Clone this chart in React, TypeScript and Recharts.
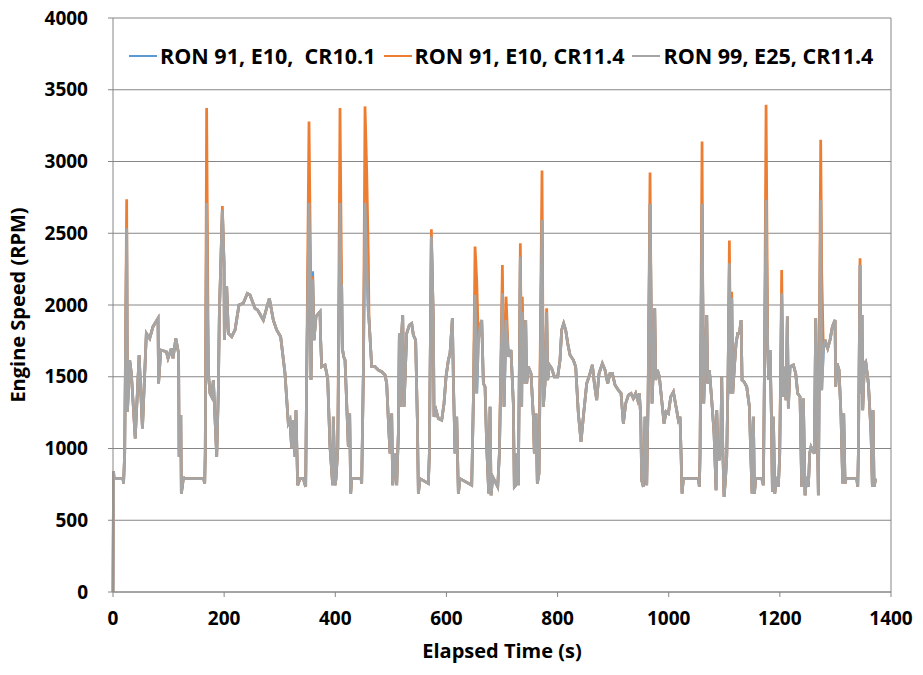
import React from 'react';
import {
  LineChart,
  Line,
  XAxis,
  YAxis,
  CartesianGrid,
  ReferenceLine,
} from 'recharts';

// elapsed time (s) and engine speed (rpm)
const timeS = [
  0, 1, 2, 18, 19, 21, 24.6, 26, 30, 33, 40, 47, 53, 60, 66, 72, 81, 82, 86, 96,
  99, 105, 108, 113, 118, 119, 122, 123, 127, 128, 163, 165, 166, 168.5, 170, 171.6, 174.6, 177.6, 180.6, 186.6,
  189.6, 191.4, 196.8, 199.8, 200.4, 204.6, 207.6, 213.6, 219.6, 226.7, 234.5, 241.7, 246.5, 255.5, 260.3, 270.5, 281.3, 288.5, 294.5, 301.7,
  309.5, 315.5, 318.5, 321.5, 324.5, 327.5, 329.3, 332.3, 336.5, 342.5, 346.7, 348.5, 352.7, 355.1, 356.3, 359.3, 361.7, 365.3, 372.5, 373.7,
  375.5, 381.5, 386.3, 390.5, 395.3, 396.5, 399.5, 401.3, 404.5, 408.5, 410.3, 411.5, 412.7, 415.1, 417.5, 423.5, 425.9, 427.7, 429.5, 446.3,
  447.5, 450.5, 453.5, 456.5, 459.5, 460.7, 465.5, 471.5, 477.5, 483.5, 489.5, 492.5, 495.5, 498.5, 501.5, 503.3, 507.5, 510.5, 513.5, 515.3,
  517.7, 519.5, 521.3, 523.7, 528.5, 533.3, 537.5, 540.5, 544.6, 547.7, 549.5, 552.5, 567.5, 569.3, 572.9, 576.5, 577.7, 581.3, 585.5, 591.5,
  595.7, 599.3, 603.5, 606.5, 610.7, 612.5, 615.5, 618.5, 621.5, 624.5, 645.5, 648.5, 651.5, 654.5, 657.5, 660.5, 663.5, 666.5, 669.5, 672.5,
  676.1, 678.5, 680.3, 683.3, 692.3, 695.3, 700.7, 703.7, 707.3, 711.5, 716.2, 720.4, 722.2, 724.6, 727, 729.4, 733, 735.4, 736.6, 739.6,
  742.6, 744.4, 747.4, 752.2, 756.4, 758.2, 761.2, 763.6, 766.6, 772, 774.4, 777.4, 780.4, 782.2, 785.2, 789.4, 794.2, 800.2, 804.4, 807.4,
  811, 814.6, 818.2, 822.4, 828.4, 832.6, 837.4, 842.2, 846.4, 852.4, 858.4, 862.6, 866.2, 870.4, 874.6, 880.6, 885.4, 890.2, 894.4, 898.6,
  903.4, 909.4, 914.2, 918.4, 922.6, 927.4, 932.2, 936.4, 940.6, 944.2, 947.2, 949.6, 951.4, 954.4, 957.4, 960.4, 962.8, 966.4, 968.2, 970,
  972.4, 974.8, 976.6, 979.6, 983.2, 987.4, 991.6, 995.2, 999.4, 1003.6, 1008.4, 1013.2, 1017.4, 1020.4, 1022.2, 1024, 1026.4, 1053.4, 1055.2, 1056.4,
  1060, 1061.2, 1063, 1068.4, 1070.2, 1073.2, 1077.4, 1081.6, 1085.2, 1086.4, 1088.8, 1091.2, 1093.6, 1095.4, 1097.2, 1099.6, 1102, 1104.4, 1106.8, 1109.2,
  1111.6, 1113.4, 1115.2, 1118.2, 1121.2, 1124.2, 1127.2, 1130.2, 1132, 1135.6, 1140.4, 1145.2, 1147.6, 1150, 1152.4, 1154.2, 1156.6, 1167.4, 1170.4, 1172.2,
  1175.2, 1177, 1178.2, 1180, 1182.4, 1184.8, 1186.6, 1188.4, 1190.8, 1194.4, 1197.3, 1199.7, 1203.3, 1205.7, 1208.1, 1211.1, 1213.5, 1215.3, 1218.3, 1224.3,
  1228.5, 1232.1, 1236.3, 1239.3, 1242.3, 1245.3, 1248.3, 1251.3, 1253.7, 1256.1, 1262.1, 1264.5, 1269.3, 1273.5, 1275.3, 1278.3, 1281.3, 1286.1, 1290.3, 1294.5,
  1299.3, 1300.5, 1302.9, 1306.5, 1310.1, 1313.1, 1314.9, 1317.3, 1319.1, 1338.3, 1340.1, 1341.3, 1344.3, 1346.1, 1347.9, 1349.1, 1352.1, 1354.5, 1359.3, 1364.1,
  1366.5, 1367.7, 1369.5, 1372.5,
];

// RON 99, E25, CR11.4 (grey, drawn on top)
const rpmE25 = [
  0, 840, 790, 790, 756, 965, 2535, 1256, 1616, 1523, 1070, 1651, 1140, 1802, 1767, 1849, 1907, 1453, 1686, 1674,
  1628, 1698, 1628, 1767, 1663, 942, 1233, 686, 802, 790, 790, 756, 965, 2710, 2000, 1523, 1384, 1360, 1477, 942,
  1407, 1942, 2663, 2291, 1756, 2128, 1802, 1779, 1826, 2000, 2012, 2081, 2070, 1977, 1965, 1895, 2047, 1895, 1826, 1779,
  1523, 1174, 1198, 1000, 1198, 942, 1267, 744, 790, 790, 733, 1500, 2710, 2174, 1477, 2180, 1756, 1919, 1953, 1756,
  1570, 1582, 1488, 1012, 744, 1221, 744, 790, 1000, 2710, 2150, 2128, 1698, 1640, 1616, 1012, 1244, 686, 790, 790,
  756, 1523, 2710, 2300, 1950, 1900, 1570, 1570, 1547, 1535, 1512, 1453, 1198, 965, 1244, 744, 965, 744, 1105, 1802,
  1291, 1802, 1930, 1291, 1802, 1860, 1872, 1791, 1756, 1198, 686, 790, 756, 965, 2477, 1872, 1221, 1267, 1209, 1198,
  1314, 1500, 1616, 1663, 1907, 1477, 965, 1221, 686, 790, 744, 1337, 2070, 1384, 1756, 1849, 1895, 1453, 1430, 1012,
  686, 1291, 674, 802, 733, 965, 2081, 1291, 1895, 1640, 1686, 1314, 733, 744, 965, 744, 2337, 1291, 1950, 1453,
  1895, 1453, 1570, 1523, 1221, 965, 1244, 756, 826, 2593, 1291, 1453, 1950, 1477, 1582, 1558, 1500, 1500, 1616, 1826,
  1872, 1826, 1733, 1651, 1616, 1570, 1244, 1047, 1221, 1453, 1523, 1582, 1453, 1337, 1523, 1593, 1547, 1453, 1523, 1523,
  1442, 1407, 1384, 1174, 1314, 1372, 1384, 1349, 1384, 1337, 1384, 1221, 779, 733, 1221, 744, 1314, 2705, 2035, 1314,
  1570, 1977, 1477, 1547, 1500, 1337, 1174, 1256, 1244, 1360, 1395, 1291, 1198, 1221, 965, 686, 790, 790, 733, 965,
  2705, 2105, 1314, 1930, 1453, 1547, 1337, 1105, 709, 1267, 965, 919, 1012, 1500, 1012, 663, 779, 942, 1500, 2291,
  1384, 2050, 1384, 1570, 1733, 1802, 1802, 1895, 1477, 1465, 1430, 1291, 965, 686, 1221, 686, 790, 790, 744, 1523,
  2733, 2000, 1686, 1477, 1686, 1221, 698, 1221, 686, 802, 733, 953, 2081, 1360, 1570, 1337, 1919, 1279, 1570, 1582,
  1523, 1384, 1360, 733, 1349, 674, 802, 733, 965, 1012, 965, 1907, 674, 2733, 1407, 1686, 1756, 1698, 1756, 1849,
  1895, 1430, 1593, 1547, 1221, 756, 1244, 756, 790, 790, 733, 965, 2279, 1384, 1930, 1267, 1593, 1605, 1453, 1105,
  733, 1267, 733, 790,
];

// RON 91, E10, CR11.4 – points where its trace rises above the grey one
const peakTimesCR114 = [24.6, 168.5, 170, 196.8, 352.7, 355.1, 359.3, 408.5, 410.3, 453.5, 456.5, 459.5, 572.9, 651.5, 654.5, 700.7, 707.3, 733, 736.6, 772, 780.4, 966.4, 1060, 1109.2, 1113.4, 1175.2, 1177, 1203.3, 1273.5, 1275.3, 1344.3];
const peakRpmCR114 = [2737, 3372, 2450, 2690, 3279, 2430, 2200, 3372, 2580, 3384, 2942, 2326, 2528, 2407, 2174, 2279, 2058, 2430, 2058, 2937, 1977, 2923, 3140, 2449, 2093, 3395, 2372, 2244, 3151, 2233, 2326];

// RON 91, E10, CR10.1 – mostly hidden under the grey trace
const peakTimesCR101 = [359.3];
const peakRpmCR101 = [2235];

const yTicks = [0, 500, 1000, 1500, 2000, 2500, 3000, 3500, 4000];
const xTicks = [0, 200, 400, 600, 800, 1000, 1200, 1400];

const seriesNames = ['RON 91, E10,  CR10.1', 'RON 91, E10, CR11.4', 'RON 99, E25, CR11.4'];
const seriesColors = ['#5B9BD5', '#ED7D31', '#A5A5A5'];

const chartData = timeS.map((t, i) => {
  const o = peakTimesCR114.indexOf(t);
  const b = peakTimesCR101.indexOf(t);
  return {
    t,
    cr101: b >= 0 ? peakRpmCR101[b] : rpmE25[i],
    cr114: o >= 0 ? peakRpmCR114[o] : rpmE25[i],
    e25: rpmE25[i],
  };
});

const font = '"Open Sans", "Noto Sans", sans-serif';
const axisColor = '#868686';
const tickStyle = { fontSize: 19, fontWeight: 700, fill: '#000', fontFamily: font };
const titleStyle = { fontSize: 20, fontWeight: 700, fill: '#000', fontFamily: font };

const App = () => (
  <div style={{ position: 'absolute', left: 0, top: 0, width: 923, height: 675, background: '#fff' }}>
    <LineChart
      width={923}
      height={675}
      data={chartData}
      margin={{ top: 18, right: 32, left: 0, bottom: 0 }}
    >
      <CartesianGrid vertical={false} stroke={axisColor} strokeWidth={1} />
      <XAxis
        dataKey="t"
        type="number"
        domain={[0, 1400]}
        ticks={xTicks}
        height={83}
        stroke={axisColor}
        tickSize={5}
        tickMargin={15}
        tick={tickStyle}
        label={{
          content: () => (
            <text x={502} y={658} textAnchor="middle" style={titleStyle}>
              Elapsed Time (s)
            </text>
          ),
        }}
      />
      <YAxis
        type="number"
        domain={[0, 4000]}
        ticks={yTicks}
        width={113}
        stroke={axisColor}
        tickSize={5}
        tickMargin={20}
        tick={tickStyle}
        label={{
          content: () => (
            <text
              x={25}
              y={305}
              transform="rotate(-90 25 305)"
              textAnchor="middle"
              style={titleStyle}
            >
              Engine Speed (RPM)
            </text>
          ),
        }}
      />
      <ReferenceLine x={1400} stroke={axisColor} />
      <Line
        type="linear"
        dataKey="cr101"
        stroke={seriesColors[0]}
        strokeWidth={2.75}
        dot={false}
        isAnimationActive={false}
      />
      <Line
        type="linear"
        dataKey="cr114"
        stroke={seriesColors[1]}
        strokeWidth={2.75}
        dot={false}
        isAnimationActive={false}
      />
      <Line
        type="linear"
        dataKey="e25"
        stroke={seriesColors[2]}
        strokeWidth={2.75}
        dot={false}
        isAnimationActive={false}
      />
    </LineChart>
    <div
      style={{
        position: 'absolute',
        left: 129,
        top: 41,
        display: 'flex',
        alignItems: 'center',
        fontFamily: font,
        fontWeight: 700,
        fontSize: 21.5,
        color: '#000',
        whiteSpace: 'pre',
      }}
    >
      {seriesNames.map((name, i) => (
        <div key={name} style={{ display: 'flex', alignItems: 'center', marginRight: 8 }}>
          <span style={{ display: 'inline-block', width: 28, height: 2, background: seriesColors[i], marginRight: 3 }} />
          <span>{name}</span>
        </div>
      ))}
    </div>
  </div>
);

export default App;
